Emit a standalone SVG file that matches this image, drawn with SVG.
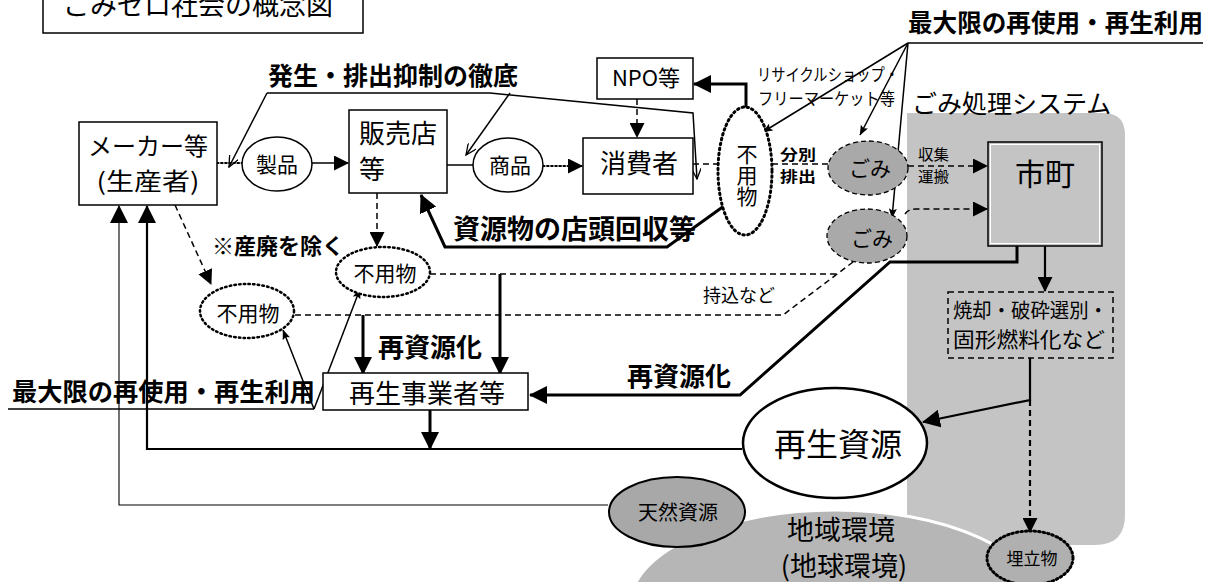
<svg xmlns="http://www.w3.org/2000/svg" width="1220" height="582" viewBox="0 0 1220 582">
<defs>
<style>
text{font-family:"Noto Sans CJK JP","Noto Sans CJK SC",sans-serif;fill:#000}
.b{font-weight:bold}
.ln{fill:none;stroke:#000;stroke-width:1.5}
.thk{stroke-width:3}
.med{stroke-width:2.2}
.thin{stroke-width:1.1}
.dash{stroke-dasharray:6 4}
.dot{stroke-dasharray:1.5 2.6;stroke-linecap:round}
.box{fill:#fff;stroke:#000;stroke-width:1.5}
.gbox{fill:none;stroke:#000;stroke-width:1.5}
.c{text-anchor:middle}
</style>
<marker id="ab" markerUnits="userSpaceOnUse" viewBox="0 0 18 18" markerWidth="18" markerHeight="18" refX="17" refY="9" orient="auto"><path d="M0,0 L18,9 L0,18 Z"/></marker>
<marker id="am" markerUnits="userSpaceOnUse" viewBox="0 0 15 15" markerWidth="15" markerHeight="15" refX="14" refY="7.5" orient="auto"><path d="M0,0 L15,7.5 L0,15 Z"/></marker>
<marker id="as" markerUnits="userSpaceOnUse" viewBox="0 0 10 8" markerWidth="10" markerHeight="8" refX="9.5" refY="4" orient="auto"><path d="M0,0 L10,4 L0,8 L2,4 Z"/></marker>
<marker id="ao" markerUnits="userSpaceOnUse" viewBox="0 0 12 10" markerWidth="12" markerHeight="10" refX="11" refY="5" orient="auto"><path d="M0,0 L11,5 L0,10" fill="none" stroke="#000" stroke-width="1.3"/></marker>
</defs>

<!-- background areas -->
<g id="system-area">
<path d="M907,113 L1103,113 Q1125,113 1125,135 L1125,515 Q1125,545 1095,545 L907,545 Z" fill="#c4c4c4"/>
<text x="912" y="113" font-size="25">ごみ処理システム</text>
</g>
<g id="chiiki">
<ellipse cx="835" cy="605" rx="205" ry="95" fill="#b6b6b6" stroke="#fff" stroke-width="3"/>
<text x="841" y="540" font-size="27" class="c">地域環境</text>
<text x="844" y="576" font-size="27" class="c">(地球環境)</text>
</g>

<!-- connectors -->
<g id="connectors">
<line class="ln med dot" x1="217" y1="163" x2="242" y2="163"/>
<line class="ln" x1="312" y1="163" x2="348" y2="163" marker-end="url(#am)"/>
<line class="ln" x1="447" y1="165" x2="473" y2="165"/>
<line class="ln dot med" x1="543" y1="166" x2="582" y2="166" marker-end="url(#am)"/>
<line class="ln dash" x1="693" y1="164" x2="718" y2="164"/>
<line class="ln dash" x1="637" y1="99" x2="637" y2="137" marker-end="url(#am)"/>
<polyline class="ln thk" points="746,125 746,84 694,84" marker-end="url(#ab)"/>
<polyline class="ln" points="267,93 490,93 693,113 697,179" marker-end="url(#ao)"/>
<line class="ln" x1="267" y1="93" x2="229" y2="167" marker-end="url(#ao)"/>
<line class="ln" x1="510" y1="93" x2="466" y2="155" marker-end="url(#ao)"/>
<polyline class="ln thk" points="724,206 667,247 445,247 421,195" marker-end="url(#ab)"/>
<line class="ln dash" x1="377" y1="193" x2="377" y2="246" marker-end="url(#am)"/>
<line class="ln dash" x1="175" y1="205" x2="211" y2="284" marker-end="url(#am)"/>
<line class="ln dash" x1="430" y1="274" x2="837" y2="274"/>
<polyline class="ln dash" points="295,315 783,315 853,262"/>
<line class="ln thk" x1="500" y1="274" x2="500" y2="374" marker-end="url(#ab)"/>
<line class="ln thk" x1="363" y1="315" x2="363" y2="374" marker-end="url(#ab)"/>
<line class="ln" x1="8" y1="409" x2="314" y2="409"/>
<line class="ln" x1="314" y1="409" x2="283" y2="330" marker-end="url(#as)"/>
<line class="ln" x1="314" y1="409" x2="360" y2="289" marker-end="url(#as)"/>
<line class="ln thk" x1="430" y1="410" x2="430" y2="449" marker-end="url(#ab)"/>
<polyline class="ln med" points="742,449 147,449 147,206" marker-end="url(#ab)"/>
<polyline class="ln thin" points="608,505 119,505 119,206" marker-end="url(#ab)"/>
<polyline class="ln thk" points="1017,246 1017,262 890,262 740,395 530,395" marker-end="url(#ab)"/>
<line class="ln dash" x1="772" y1="164" x2="828" y2="164"/>
<line class="ln dash" x1="908" y1="166" x2="987" y2="166" marker-end="url(#am)"/>
<path class="ln dash" d="M905,214 Q908,209 916,209 L987,209" marker-end="url(#am)"/>
<line class="ln med" x1="1045" y1="246" x2="1045" y2="291" marker-end="url(#am)"/>
<polyline class="ln med" points="1030,358 1030,400 923,422" marker-end="url(#ab)"/>
<line class="ln med dash" x1="1030" y1="400" x2="1030" y2="532" marker-end="url(#am)"/>
<line class="ln" x1="908" y1="43" x2="1203" y2="43"/>
<line class="ln" x1="908" y1="43" x2="763" y2="132" marker-end="url(#as)"/>
<line class="ln" x1="908" y1="43" x2="860" y2="135" marker-end="url(#as)"/>
<line class="ln" x1="908" y1="43" x2="892" y2="218" marker-end="url(#as)"/>
</g>

<!-- nodes -->
<g id="title">
<rect class="box" x="43" y="-5" width="320" height="38"/>
<text x="63" y="15" font-size="27">ごみゼロ社会の概念図</text>
</g>
<g id="maker">
<rect class="box" x="79" y="122" width="138" height="83"/>
<text x="148" y="155" font-size="24" class="c">メーカー等</text>
<text x="148" y="190" font-size="24" class="c" textLength="103" lengthAdjust="spacingAndGlyphs">(生産者)</text>
</g>
<g id="seihin">
<ellipse cx="277" cy="164" rx="35" ry="27" fill="#fff" stroke="#000" stroke-width="1.5"/>
<text x="277" y="172" font-size="21" class="c">製品</text>
</g>
<g id="hanbaiten">
<rect class="box" x="349" y="110" width="98" height="83"/>
<text x="359" y="143" font-size="26">販売店</text>
<text x="359" y="179" font-size="26">等</text>
</g>
<g id="shohin">
<ellipse cx="508" cy="165" rx="35" ry="27" fill="#fff" stroke="#000" stroke-width="1.5"/>
<text x="510" y="173" font-size="21" class="c">商品</text>
</g>
<g id="shohisha">
<rect class="box" x="583" y="138" width="110" height="56"/>
<text x="639" y="173" font-size="26" class="c">消費者</text>
</g>
<g id="npo">
<rect class="box" x="597" y="58" width="96" height="41"/>
<text x="646" y="86" font-size="22" class="c">NPO等</text>
</g>
<g id="fuyo-main">
<ellipse cx="745" cy="171" rx="27" ry="64" fill="#fff" stroke="#000" stroke-width="3" stroke-dasharray="1.5 3.5" stroke-linecap="round"/>
<text x="747" y="144" font-size="21" writing-mode="vertical-rl" style="writing-mode:vertical-rl">不用物</text>
</g>
<g id="labels">
<text x="268" y="85" font-size="25" class="b">発生・排出抑制の徹底</text>
<text x="908" y="32" font-size="24.5" class="b" textLength="295" lengthAdjust="spacingAndGlyphs">最大限の再使用・再生利用</text>
<text x="12" y="401" font-size="25" class="b" textLength="303" lengthAdjust="spacingAndGlyphs">最大限の再使用・再生利用</text>
<text x="757" y="81" font-size="17" textLength="142" lengthAdjust="spacingAndGlyphs">リサイクルショップ・</text>
<text x="758" y="105" font-size="17" textLength="137" lengthAdjust="spacingAndGlyphs">フリーマーケット等</text>
<text x="780" y="160" font-size="15" class="b" textLength="36" lengthAdjust="spacingAndGlyphs">分別</text>
<text x="780" y="182" font-size="15" class="b" textLength="36" lengthAdjust="spacingAndGlyphs">排出</text>
<text x="918" y="160" font-size="15" textLength="31" lengthAdjust="spacingAndGlyphs">収集</text>
<text x="918" y="182" font-size="15" textLength="31" lengthAdjust="spacingAndGlyphs">運搬</text>
<text x="212" y="254" font-size="22" class="b">※産廃を除く</text>
<text x="453" y="239" font-size="27" class="b">資源物の店頭回収等</text>
<text x="703" y="302" font-size="18">持込など</text>
<text x="378" y="357" font-size="26" class="b">再資源化</text>
<text x="627" y="386" font-size="26" class="b">再資源化</text>
</g>
<g id="gomi1">
<ellipse cx="868" cy="168" rx="40" ry="27" fill="#a9a9a9" stroke="#000" stroke-width="1.3" stroke-dasharray="5 3"/>
<text x="870" y="176" font-size="21" class="c">ごみ</text>
</g>
<g id="gomi2">
<ellipse cx="867" cy="236" rx="40" ry="27" fill="#a9a9a9" stroke="#000" stroke-width="1.3" stroke-dasharray="5 3"/>
<text x="872" y="246" font-size="21" class="c">ごみ</text>
</g>
<g id="shicho">
<rect class="gbox" x="988" y="142" width="114" height="104"/>
<rect x="990.5" y="144.5" width="109" height="99" fill="none" stroke="#fff" stroke-width="1"/>
<text x="1045" y="185" font-size="30" class="c">市町</text>
</g>
<g id="shori">
<rect class="gbox dash" x="948" y="292" width="165" height="66"/>
<text x="953" y="318" font-size="20" textLength="155" lengthAdjust="spacingAndGlyphs">焼却・破砕選別・</text>
<text x="953" y="347" font-size="21" textLength="152" lengthAdjust="spacingAndGlyphs">固形燃料化など</text>
</g>
<g id="fuyo-mid">
<ellipse cx="383" cy="272" rx="47" ry="25" fill="#fff" stroke="#000" stroke-width="2.5" stroke-dasharray="1.5 3.2" stroke-linecap="round"/>
<text x="385" y="281" font-size="21" class="c">不用物</text>
</g>
<g id="fuyo-left">
<ellipse cx="247" cy="311" rx="47" ry="27" fill="#fff" stroke="#000" stroke-width="2.5" stroke-dasharray="1.5 3.2" stroke-linecap="round"/>
<text x="248" y="321" font-size="21" class="c">不用物</text>
</g>
<g id="saisei-jigyosha">
<rect class="box" x="323" y="373" width="205" height="37"/>
<text x="427" y="403" font-size="26" class="c">再生事業者等</text>
</g>
<g id="saisei-shigen">
<ellipse cx="835" cy="443" rx="92" ry="55" fill="#fff" stroke="#000" stroke-width="2.5"/>
<text x="838" y="456" font-size="32" class="c">再生資源</text>
</g>
<g id="tennen">
<ellipse cx="677" cy="512" rx="68" ry="35" fill="#a8a8a8" stroke="#000" stroke-width="2"/>
<text x="678" y="520" font-size="20" class="c">天然資源</text>
</g>
<g id="umetate">
<ellipse cx="1030" cy="558" rx="43" ry="27" fill="#b0b0b0" stroke="#000" stroke-width="3" stroke-dasharray="1.5 3" stroke-linecap="round"/>
<text x="1032" y="565" font-size="17" class="c">埋立物</text>
</g>
</svg>
